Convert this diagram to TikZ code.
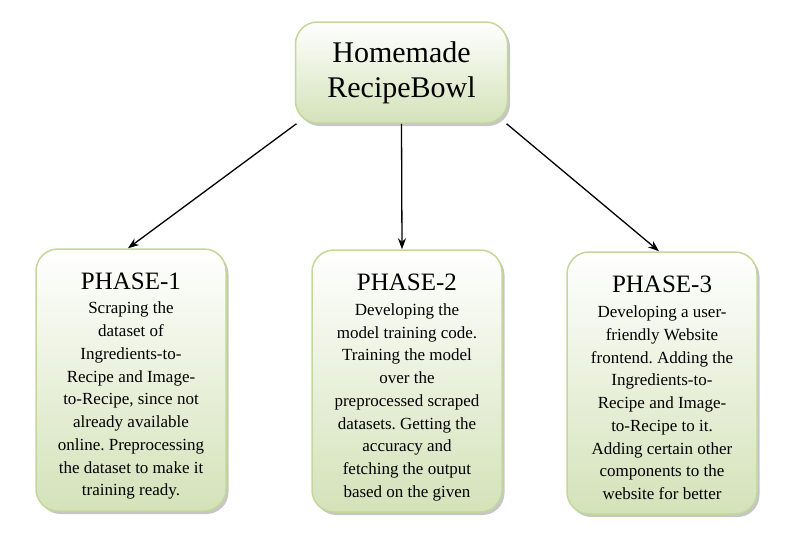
\documentclass[tikz,border=0pt]{standalone}
\usepackage{fontspec}
\setmainfont{Liberation Serif}
\frenchspacing
\usetikzlibrary{shadows,arrows.meta,calc}
\definecolor{boxfill}{RGB}{212,226,185}
\definecolor{boxline}{RGB}{196,215,155}
\begin{document}
\begin{tikzpicture}[x=1pt,y=-1pt,
  box/.style={draw=boxline, line width=1.5pt, rounded corners=22pt,
    top color=white, bottom color=boxfill,
    drop shadow={shadow xshift=2.5pt, shadow yshift=-3pt, fill=black!50, opacity=.45},
    align=center, inner sep=0pt},
  phase/.style={box, minimum width=190pt, minimum height=262pt},
  phasetext/.style={align=center, inner sep=0pt, font=\fontsize{17}{22.75}\selectfont},
  conn/.style={line width=1.3pt, -{Stealth[length=11pt,width=8pt]}}]
\useasboundingbox (0,0) rectangle (795,546);
\node[box, minimum width=212pt, minimum height=101pt,
  font=\fontsize{30}{35}\selectfont] (top) at (401.5,72.5) {Homemade\\RecipeBowl};
\node[phase] (p1) at (131,380) {};
\node[phase] (p2) at (407,381) {};
\node[phase] (p3) at (662,383) {};
\node[phasetext] (t1) at ($(p1.center)+(0,6)$) {{\fontsize{25}{22}\selectfont PHASE-1}\\[2pt]
Scraping the\\dataset of\\Ingredients-to-\\Recipe and Image-\\to-Recipe, since not\\already available\\online. Preprocessing\\the dataset to make it\\training ready.};
\node[phasetext] (t2) at ($(p2.center)+(0,6.5)$) {{\fontsize{25}{22}\selectfont PHASE-2}\\[2pt]
Developing the\\model training code.\\Training the model\\over the\\preprocessed scraped\\datasets. Getting the\\accuracy and\\fetching the output\\based on the given};
\node[phasetext] (t3) at ($(p3.center)+(0,5)$) {{\fontsize{25}{22}\selectfont PHASE-3}\\[2pt]
Developing a user-\\friendly Website\\frontend. Adding the\\Ingredients-to-\\Recipe and Image-\\to-Recipe to it.\\Adding certain other\\components to the\\website for better};
\draw[conn] (top.206) -- ($(p1.north)+(-3,0)$);
\draw[conn] (top.south) -- ($(p2.north)+(-5,0)$);
\draw[conn] (top.-26) -- ($(p3.north)+(-3,0)$);
\end{tikzpicture}
\end{document}
